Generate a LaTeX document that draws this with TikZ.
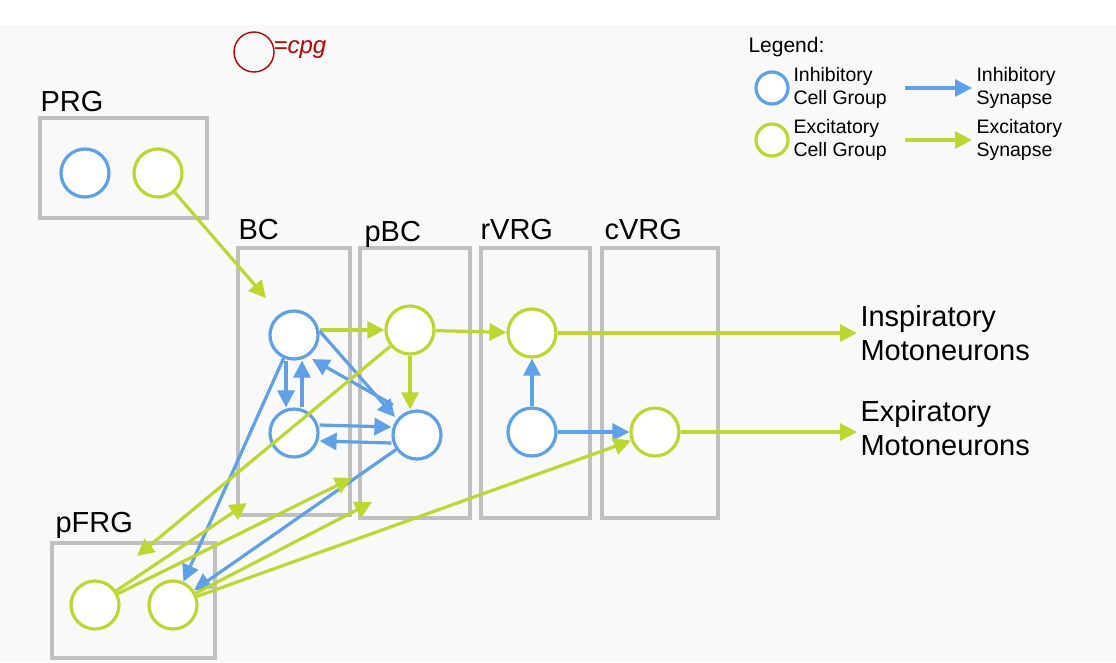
\documentclass[tikz,border=0pt]{standalone}
\usepackage{fontspec}
\setmainfont{Liberation Sans}
\usetikzlibrary{arrows.meta}
\definecolor{inh}{RGB}{95,160,235}
\definecolor{exc}{RGB}{190,215,45}
\definecolor{boxc}{RGB}{192,192,192}
\begin{document}
\begin{tikzpicture}[x=1pt,y=-1pt,
  grp/.style={draw=boxc,line width=4.5pt},
  ic/.style={circle,draw=inh,line width=3.2pt,minimum size=48pt,inner sep=0pt,fill=white},
  ec/.style={circle,draw=exc,line width=3.2pt,minimum size=48pt,inner sep=0pt,fill=white},
  ia/.style={draw=inh,line width=3.2pt,-{Triangle[length=17pt,width=17pt]}},
  ea/.style={draw=exc,line width=3.2pt,-{Triangle[length=17pt,width=17pt]}},
  lab/.style={font=\fontsize{29}{34}\selectfont,anchor=west},
  leg/.style={font=\fontsize{19.5}{23}\selectfont,align=left,anchor=west}]
\useasboundingbox (0,0) rectangle (1116,662);
\fill[white] (0,0) rectangle (1116,662);
\fill[black!2.5] (0,25) rectangle (1116,662);
% handwritten note
\node[circle,draw=red!75!black,line width=1.4pt,minimum width=30pt,minimum height=40pt,inner sep=0pt] (note) at (254,52) {};
\node[text=red!75!black,font=\fontsize{24}{26}\selectfont\itshape,anchor=west] (notet) at (270,50) {=cpg};
% boxes
\draw[grp] (40,118) rectangle (207,218);
\draw[grp] (238,248) rectangle (350,515);
\draw[grp] (360,248) rectangle (470,518);
\draw[grp] (481,248) rectangle (590,518);
\draw[grp] (602,248) rectangle (718,518);
\draw[grp] (52,543) rectangle (215,658);
\node[lab] (lprg) at (37,102) {PRG};
\node[lab] (lbc) at (235,230) {BC};
\node[lab] (lpbc) at (361,234) {pBC};
\node[lab] (lrvrg) at (477,230) {rVRG};
\node[lab] (lcvrg) at (601,230) {cVRG};
\node[lab] (lpfrg) at (52,525) {pFRG};
% cells
\node[ic] (P1) at (85,173) {};
\node[ec] (P2) at (158,173) {};
\node[ic] (B1) at (294,335) {};
\node[ic] (B3) at (294,433) {};
\node[ec] (G1) at (410,330) {};
\node[ic] (B4) at (417,435) {};
\node[ec] (R1) at (532,333) {};
\node[ic] (R2) at (532,432) {};
\node[ec] (C1) at (655,432) {};
\node[ec] (F1) at (95,605) {};
\node[ec] (F2) at (173,605) {};
\coordinate (e1) at (266,298);
\coordinate (e2) at (247,503);
\coordinate (e3) at (352,478);
\coordinate (e4) at (372,502);
\node[lab,align=left] (insp) at (857,333) {Inspiratory\\Motoneurons};
\node[lab,align=left] (exp) at (857,428) {Expiratory\\Motoneurons};
% connections
\draw[ea] (P2) -- (e1);
\draw[ea] (B1.east |- G1) -- (G1);
\draw[ea] (G1) -- (R1);
\draw[ea] (R1) -- (insp.west |- R1);
\draw[ea] (G1) -- (G1|-B4.north);
\draw[ea] (C1) -- (exp.west |- C1);
\draw[ia] (R2) -- (R1);
\draw[ia] (R2.east) -- (C1.west);
\draw[ia] ([xshift=-8pt]B1.south) -- ([xshift=-8pt]B3.north);
\draw[ia] ([xshift=8pt]B3.north) -- ([xshift=8pt]B1.south);
\draw[ia] ([yshift=-8pt]B4.west) -- ([yshift=-8pt]B3.east);
\draw[ia] ([yshift=8pt]B3.east) -- ([yshift=8pt]B4.west);
\draw[ia] ([yshift=4pt]B1.east) -- ([xshift=-4pt]B4.north west);
\draw[ia] ([xshift=-6pt,yshift=12pt]B4.north west) -- ([yshift=-6pt]B1.south east);
\draw[ia] (B1) -- (F2);
\draw[ia] (B4) -- (F2);
\draw[ea] (G1) -- (137,556);
\draw[ea] (F1) -- (e2);
\draw[ea] (F1) -- (e3);
\draw[ea] (F2) -- (e4);
\draw[ea] (F2) -- (C1);
% legend
\node[font=\fontsize{21}{24}\selectfont,anchor=west] (lg) at (745,47) {Legend:};
\node[ic,minimum size=32pt] (L1) at (772,88) {};
\node[ec,minimum size=32pt] (L2) at (772,140) {};
\node[leg] (L1t) at (790,88) {Inhibitory\\Cell Group};
\node[leg] (L2t) at (790,140) {Excitatory\\Cell Group};
\coordinate (a1) at (905,88); \coordinate (a2) at (972,88);
\coordinate (a3) at (905,140); \coordinate (a4) at (972,140);
\draw[ia] (a1) -- (a2);
\draw[ea] (a3) -- (a4);
\node[leg] (L3t) at (973,88) {Inhibitory\\Synapse};
\node[leg] (L4t) at (973,140) {Excitatory\\Synapse};
\end{tikzpicture}
\end{document}
